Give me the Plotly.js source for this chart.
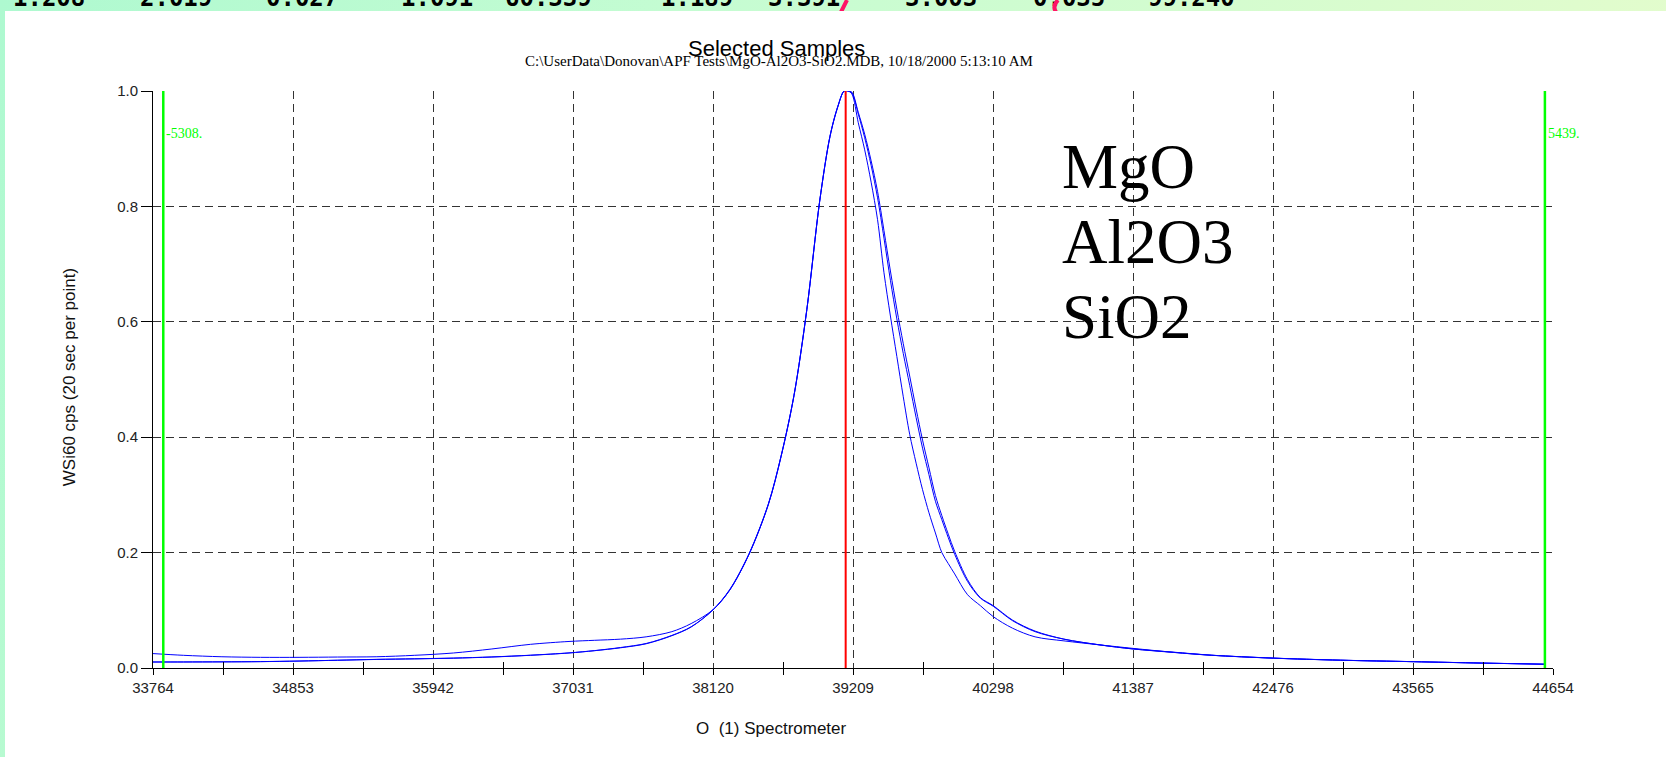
<!DOCTYPE html>
<html>
<head>
<meta charset="utf-8">
<script src="https://cdn.plot.ly/plotly-3.0.1.min.js"></script>
<style>
html,body{margin:0;padding:0;width:1666px;height:757px;overflow:hidden;}
body{position:relative;background:linear-gradient(110deg,#aef9d0 0%,#c4fcd2 35%,#eafccb 100%);}
#panel{position:absolute;left:5px;top:11px;right:0;bottom:0;background:#ffffff;}
#strip{position:absolute;left:0;top:0;width:1666px;height:11px;overflow:hidden;}
.tok{position:absolute;top:-14px;font-family:"DejaVu Sans Mono",monospace;font-weight:bold;font-size:24px;line-height:24px;color:#000;white-space:pre;}
#strip svg{position:absolute;left:0;top:0;}
#chart{position:absolute;left:0;top:0;width:1666px;height:757px;}
</style>
</head>
<body>
<div id="panel"></div>
<div id="strip"></div>
<div id="chart"></div>
<script>
// ---------- data ----------
const xTickLabels = ['33764','34853','35942','37031','38120','39209','40298','41387','42476','43565','44654'];
const yTickLabels = ['0.0','0.2','0.4','0.6','0.8','1.0'];

const spectrometerPos = [33764,34000,34300,34600,34900,35200,35500,35800,36100,36400,36700,37000,37200,37400,37600,37800,37950,38120,
  38250,38400,38550,38650,38750,38850,38950,39030,39090,39140,39170,
  39200,39250,39300,39350,39400,39450,39500,39550,39600,39650,39700,39750,39800,39850,39900,39950,40000,40100,40200,40300,40450,40625,40850,41130,41387,
  41700,42000,42478,43000,43567,44100,44597];

const sampleNames = ['MgO','Al2O3','SiO2'];

const cpsMgO = [0.0105,0.0105,0.0107,0.011,0.012,0.0135,0.015,0.0158,0.017,0.019,0.022,0.026,0.030,0.035,0.042,0.056,0.071,0.101,
  0.136,0.198,0.284,0.368,0.473,0.622,0.810,0.922,0.973,1.0,1.0,
  0.998,0.963,0.925,0.879,0.826,0.758,0.688,0.622,0.562,0.506,0.449,0.395,0.347,0.299,0.264,0.232,0.202,0.153,0.122,0.108,0.083,0.064,0.050,0.040,0.033,
  0.0275,0.0222,0.0172,0.0136,0.0110,0.0086,0.0066];

const cpsAl2O3 = [0.0103,0.0104,0.0106,0.0111,0.0121,0.0134,0.0148,0.0160,0.0172,0.0192,0.0222,0.0262,0.0302,0.0355,0.0425,0.0565,0.0715,0.1005,
  0.135,0.197,0.283,0.367,0.472,0.621,0.809,0.921,0.972,1.0,1.0,
  0.995,0.945,0.898,0.842,0.777,0.685,0.610,0.540,0.470,0.405,0.355,0.309,0.269,0.234,0.200,0.181,0.163,0.127,0.108,0.089,0.069,0.054,0.047,0.040,0.034,
  0.0272,0.0221,0.0171,0.0135,0.0109,0.0085,0.0065];

const cpsSiO2 = [0.025,0.022,0.0195,0.0185,0.0185,0.019,0.0195,0.022,0.026,0.033,0.041,0.046,0.048,0.050,0.054,0.063,0.077,0.101,
  0.135,0.197,0.283,0.367,0.472,0.621,0.809,0.921,0.972,1.0,1.0,
  0.997,0.960,0.919,0.871,0.815,0.745,0.672,0.605,0.545,0.490,0.434,0.381,0.335,0.289,0.257,0.226,0.197,0.150,0.121,0.107,0.082,0.063,0.050,0.040,0.033,
  0.027,0.022,0.017,0.0135,0.011,0.0085,0.0065];

const peakPosition = 39152;
const limitOffsets = [-5308, 5439];

// decorative strip of a window behind the chart (clipped text)
const stripTokens = ['1.208','2.019','0.027','1.091','60.339','1.189','3.391','3.003','0.035','99.240'];
const stripLefts  = [13,140,266,401,505,661,768,905,1033,1148];

// ---------- background strip ----------
const strip = document.getElementById('strip');
stripTokens.forEach((t,i)=>{
  const s=document.createElement('span'); s.className='tok'; s.textContent=t; s.style.left=stripLefts[i]+'px'; strip.appendChild(s);
});
strip.insertAdjacentHTML('beforeend',
 '<svg width="1666" height="11"><path d="M847,0 L841,12" stroke="#ff1466" stroke-width="4" fill="none"/>'+
 '<path d="M1058,0 Q1052,6 1056,12" stroke="#ff1466" stroke-width="4" fill="none"/></svg>');

// ---------- chart ----------
const ARIAL = 'Arial, "Liberation Sans", sans-serif';
const TIMES = '"Times New Roman", "Liberation Serif", serif';
const xTickVals = xTickLabels.map(Number);
const yTickVals = yTickLabels.map(Number);
const minorVals = xTickVals.slice(1).map((v,i)=> (v + xTickVals[i]) / 2);
const xRange = [xTickVals[0], xTickVals[xTickVals.length-1]];
const limitPositions = limitOffsets.map(o => peakPosition + o);

const series = [cpsMgO, cpsAl2O3, cpsSiO2];
const traces = series.map((ys,i)=>({
  x: spectrometerPos, y: ys, name: sampleNames[i], type:'scatter', mode:'lines',
  line:{color:'#0000ff', width:1, shape:'spline', smoothing:0.9}, hoverinfo:'skip', showlegend:false
}));
traces.push({x:[peakPosition,peakPosition], y:[0,1], mode:'lines', line:{color:'#ff0000', width:2}, showlegend:false, hoverinfo:'skip'});
limitPositions.forEach(p=>traces.push({x:[p,p], y:[0,1], mode:'lines', line:{color:'#00ff00', width:2.5}, showlegend:false, hoverinfo:'skip'}));
traces.push({x:[], y:[], xaxis:'x2', yaxis:'y', mode:'lines', showlegend:false, hoverinfo:'skip'});

const annotations = [
  {text:'Selected Samples', xref:'paper', yref:'paper', x:0.4457, y:1.0728, xanchor:'center', yanchor:'middle', showarrow:false, font:{family:ARIAL, size:22, color:'#000'}},
  {text:'C:\\UserData\\Donovan\\APF Tests\\MgO-Al2O3-SiO2.MDB, 10/18/2000 5:13:10 AM', xref:'paper', yref:'paper', x:0.4471, y:1.052, xanchor:'center', yanchor:'middle', showarrow:false, font:{family:TIMES, size:15, color:'#000'}},
  {text:'O\u00a0 (1) Spectrometer', xref:'paper', yref:'paper', x:0.442, y:-0.1057, xanchor:'center', yanchor:'middle', showarrow:false, font:{family:ARIAL, size:17, color:'#111'}},
  {text:'WSi60 cps (20 sec per point)', xref:'paper', yref:'paper', x:-0.06, y:0.504, xanchor:'center', yanchor:'middle', textangle:-90, showarrow:false, font:{family:ARIAL, size:17, color:'#111'}}
];
limitPositions.forEach((p,i)=>annotations.push({
  text: String(limitOffsets[i]) + '.', x:p, xref:'x', yref:'paper', y:0.927, xanchor:'left', yanchor:'middle', xshift:1, showarrow:false,
  font:{family:TIMES, size:14, color:'#00ff00'}
}));
const legendY = [0.868, 0.738, 0.608];
sampleNames.forEach((n,i)=>annotations.push({
  text:n, xref:'paper', yref:'paper', x:0.6479, y:legendY[i], xanchor:'left', yanchor:'middle', showarrow:false,
  font:{family:TIMES, size:63, color:'#000'}
}));

const layout = {
  width:1666, height:757,
  margin:{l:153, r:113, t:91, b:89, pad:0},
  paper_bgcolor:'rgba(0,0,0,0)', plot_bgcolor:'#ffffff',
  showlegend:false, hovermode:false,
  font:{family:ARIAL, color:'#222'},
  xaxis:{
    range:xRange, tickmode:'array', tickvals:xTickVals, ticktext:xTickLabels,
    ticks:'outside', ticklen:6, tickwidth:1, tickcolor:'#000',
    showline:true, linecolor:'#000', linewidth:1, zeroline:false,
    showgrid:true, gridcolor:'#333', gridwidth:1, griddash:'8px,5px',
    tickfont:{family:ARIAL, size:15, color:'#222'},
    minor:{tickmode:'array', tickvals:minorVals, ticks:'outside', ticklen:6, tickwidth:1, tickcolor:'#000', showgrid:false}
  },
  xaxis2:{
    range:xRange, overlaying:'x', anchor:'y', side:'bottom',
    tickmode:'array', tickvals:minorVals, ticks:'inside', ticklen:6, tickwidth:1, tickcolor:'#000',
    showticklabels:false, showgrid:false, zeroline:false, showline:false
  },
  yaxis:{
    range:[0,1], tickmode:'array', tickvals:yTickVals, ticktext:yTickLabels,
    ticks:'outside', ticklen:11, tickwidth:1, tickcolor:'#000',
    showline:true, linecolor:'#000', linewidth:1, zeroline:false,
    showgrid:true, gridcolor:'#333', gridwidth:1, griddash:'8px,5px',
    tickfont:{family:ARIAL, size:15, color:'#222'}
  },
  annotations: annotations
};

Plotly.newPlot('chart', traces, layout, {staticPlot:true, displayModeBar:false});
</script>
</body>
</html>
